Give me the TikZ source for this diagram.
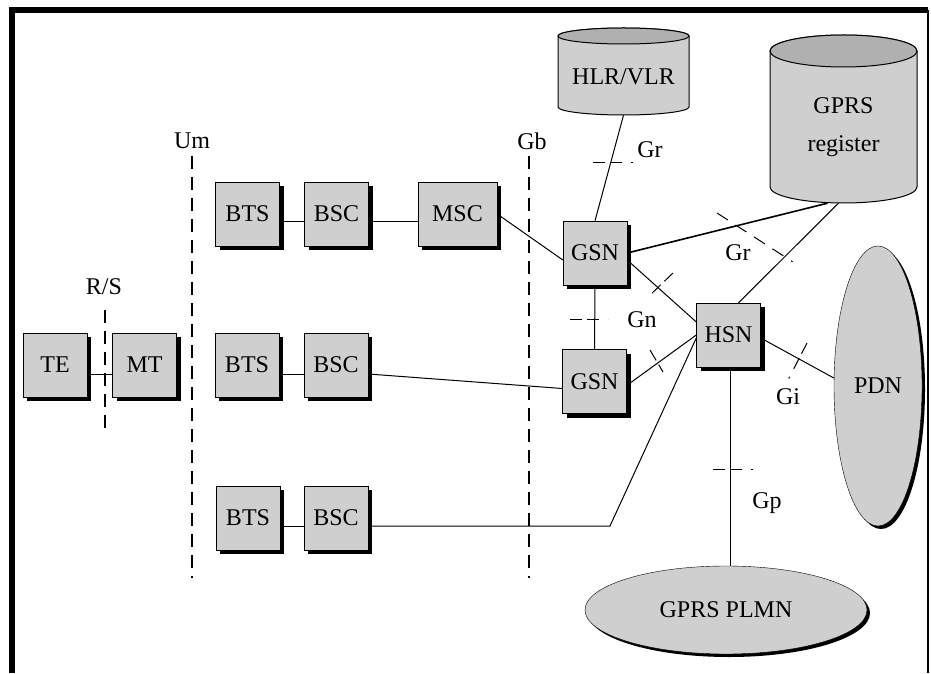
\documentclass[tikz,border=0pt]{standalone}
\usepackage{fontspec}
\setmainfont{Liberation Serif}
\usetikzlibrary{shapes.geometric,shadows}
\tikzset{
  unit/.style={draw, fill=gray!38, minimum width=64pt, minimum height=64pt, inner sep=0pt,
    drop shadow={shadow xshift=4pt, shadow yshift=-4pt, fill=black, opacity=1},
    font=\fontsize{24}{28}\selectfont},
  net/.style={ellipse, draw, fill=gray!38, inner sep=0pt,
    drop shadow={shadow xshift=3pt, shadow yshift=-3pt, fill=black, opacity=1},
    font=\fontsize{24}{28}\selectfont},
  lbl/.style={inner sep=0pt, font=\fontsize{24}{28}\selectfont},
  body/.style={draw, line width=1pt, fill=gray!38},
  lid/.style={draw, line width=1pt, fill=gray!62},
  iface/.style={line width=1.3pt, dash pattern=on 13pt off 8pt},
  link/.style={line width=1pt},
  cut/.style={line width=1pt, dash pattern=on 12pt off 5pt on 12pt off 9pt on 2pt off 30pt},
  longcut/.style={line width=1pt, dash pattern=on 13pt off 9pt on 13pt off 9pt on 13pt off 9pt on 13pt off 9pt on 2pt off 30pt}
}
\begin{document}
\begin{tikzpicture}[x=1pt,y=1pt]
\useasboundingbox (0,0) rectangle (931,673);
% frame
\draw[line width=5.5pt] (12,0) -- (12,663) -- (928,663);
\draw[line width=1.5pt] (928,663) -- (928,0);
% interfaces
\draw[iface] (105,363) -- (105,241);
\draw[iface] (192,517) -- (192,95);
\draw[iface] (529,517) -- (529,95);
\node[lbl] (rs) at (104,386) {R/S};
\node[lbl] (um) at (192,532) {Um};
\node[lbl] (gb) at (532,532) {Gb};
% registers
\filldraw[body] (558,637) -- (558,566) arc[start angle=180, end angle=360, x radius=65.5, y radius=8]
  -- (689,637) arc[start angle=0, end angle=180, x radius=65.5, y radius=8] -- cycle;
\filldraw[lid] (623.5,637) ellipse[x radius=65.5, y radius=8];
\node[lbl, minimum width=131pt, minimum height=76pt] (hlr) at (623.5,596) {HLR/VLR};
\filldraw[body] (770,622) -- (770,486) arc[start angle=180, end angle=360, x radius=73.5, y radius=16]
  -- (917,622) arc[start angle=0, end angle=180, x radius=73.5, y radius=16] -- cycle;
\filldraw[lid] (843.5,622) ellipse[x radius=73.5, y radius=16];
\node[lbl, minimum width=147pt, minimum height=152pt, align=center] (reg) at (843.5,546) {GPRS\\[10pt]register};
% units
\node[unit] (te) at (55,308) {TE};
\node[unit] (mt) at (144.5,308) {MT};
\node[unit] (bts1) at (247.5,459) {BTS};
\node[unit] (bsc1) at (336.5,459) {BSC};
\node[unit, minimum width=79pt] (msc) at (457.5,459) {MSC};
\node[unit] (bts2) at (247,308) {BTS};
\node[unit] (bsc2) at (336,308) {BSC};
\node[unit] (bts3) at (248,155) {BTS};
\node[unit] (bsc3) at (336,155) {BSC};
\node[unit] (gsn1) at (595,420) {GSN};
\node[unit] (gsn2) at (594.5,291.5) {GSN};
\node[unit] (hsn) at (728.5,338) {HSN};
% networks
\node[net, minimum width=88pt, minimum height=280pt] (pdn) at (878,287) {PDN};
\node[net, minimum width=282pt, minimum height=88pt] (plmn) at (726,63) {GPRS PLMN};
% links
\coordinate (knee) at (610,147);
\draw[link] ([yshift=-9pt]te.east) -- ([yshift=-9pt]mt.west);
\draw[link] ([yshift=-8pt]bts1.east) -- ([yshift=-8pt]bsc1.west);
\draw[link] ([yshift=-8pt]bsc1.east) -- ([yshift=-8pt]msc.west);
\draw[link] ([yshift=-9pt]bts2.east) -- ([yshift=-9pt]bsc2.west);
\draw[link] ([yshift=-9pt]bsc2.east) -- ([yshift=-7pt]gsn2.west);
\draw[link] ([yshift=-8pt]bts3.east) -- ([yshift=-8pt]bsc3.west);
\draw[link] ([yshift=-8pt]bsc3.east) -- (knee) -- ([yshift=-3pt]hsn.west);
\draw[link] (msc.east) -- ([yshift=-7pt]gsn1.west);
\draw[link] (hlr.south) -- (gsn1.north);
\draw[link, line width=1.6pt] (gsn1.east) -- ([xshift=-16pt]reg.south);
\draw[link] ([xshift=-5pt]reg.south) -- ([xshift=10pt]hsn.north);
\draw[link] (gsn1.south) -- (gsn2.north);
\draw[link] ([yshift=-7pt]gsn1.east) -- ([yshift=13pt]hsn.west);
\draw[link] ([yshift=-4pt]gsn2.east) -- (hsn.west);
\draw[link] ([yshift=-3pt]hsn.east) -- ([yshift=8pt]pdn.west);
\draw[link] ([xshift=2pt]hsn.south) -- ([xshift=2pt]hsn.south |- plmn.north);
% cuts
\draw[cut] (593,510) -- (633,510);
\draw[longcut] (717,460) -- (813,398);
\draw[cut] (570,354) -- (608,354);
\draw[cut] (673,400) -- (647,375);
\draw[cut] (650,323) -- (663,301);
\draw[cut] (807,330) -- (788,293);
\draw[cut] (713,204) -- (753,204);
\node[lbl] (gr1) at (650,523) {Gr};
\node[lbl] (gr2) at (738,420) {Gr};
\node[lbl] (gn) at (642,353) {Gn};
\node[lbl] (gi) at (788,276) {Gi};
\node[lbl] (gp) at (767,170) {Gp};
\end{tikzpicture}
\end{document}
